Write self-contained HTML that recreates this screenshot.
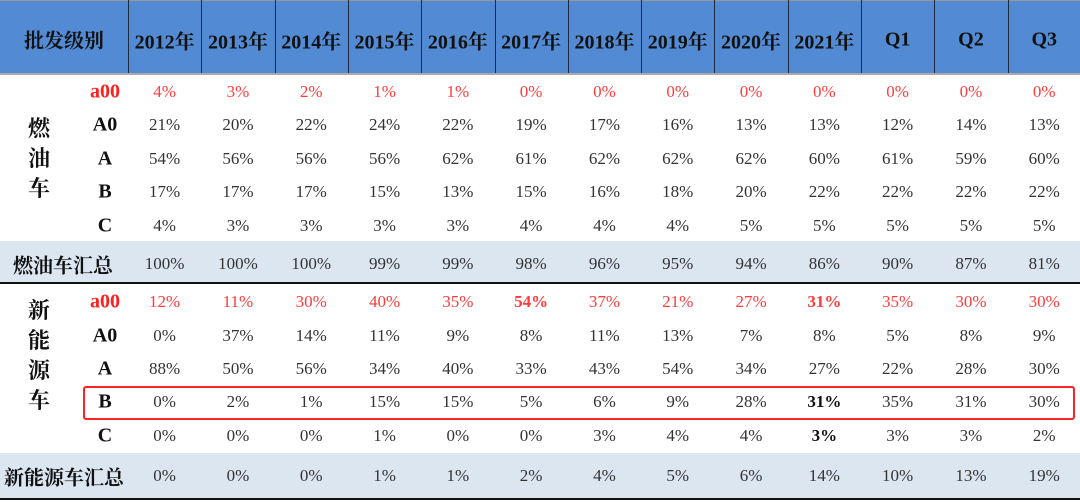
<!DOCTYPE html>
<html><head><meta charset="utf-8"><style>
body{margin:0;width:1080px;height:502px;background:#fff;position:relative;overflow:hidden;font-family:"Liberation Serif","Noto Serif CJK SC",serif;}
.a{position:absolute;transform:translate(-50%,-50%);white-space:nowrap;font-size:17px;color:#333;}
.h{font-weight:bold;color:#111;font-size:20px;}
.r{color:#ff3b3b;}
.b{font-weight:bold;}
.g{font-weight:bold;color:#111;font-size:20px;}
</style></head><body>
<div style="position:absolute;left:0;top:0;width:1080px;height:73px;background:#528bd4;border-top:1px solid #999;"></div>
<div style="position:absolute;left:0;top:73px;width:1080px;height:2px;background:#aaa;"></div>
<div style="position:absolute;left:0;top:241px;width:1080px;height:41px;background:#dce6f1;"></div>
<div style="position:absolute;left:0;top:282px;width:1080px;height:2px;background:#111;"></div>
<div style="position:absolute;left:0;top:453px;width:1080px;height:45px;background:#dce6f1;"></div>
<div style="position:absolute;left:0;top:498px;width:1080px;height:2px;background:#111;"></div>
<div style="position:absolute;left:83px;top:386px;width:988px;height:30px;border:2px solid #f22;border-radius:3px;"></div>
<div id="c"></div>
<script>
const c=document.getElementById('c');let h='';
const xs=[];for(let i=0;i<13;i++)xs.push(128+73.3*(i+0.5));
for(let i=0;i<13;i++){const x=128+73.3*i;h+=`<div style="position:absolute;left:${x}px;top:0;width:1px;height:73px;background:#1a2a40"></div>`;}
const hd=['2012年','2013年','2014年','2015年','2016年','2017年','2018年','2019年','2020年','2021年','Q1','Q2','Q3'];
h+=`<div class="a h" style="left:64px;top:39px">批发级别</div>`;
hd.forEach((t,i)=>h+=`<div class="a h" style="left:${xs[i]}px;top:40px">${t}</div>`);
const rows=[
[92,'a00',['4%','3%','2%','1%','1%','0%','0%','0%','0%','0%','0%','0%','0%'],1],
[125,'A0',['21%','20%','22%','24%','22%','19%','17%','16%','13%','13%','12%','14%','13%']],
[159,'A',['54%','56%','56%','56%','62%','61%','62%','62%','62%','60%','61%','59%','60%']],
[192,'B',['17%','17%','17%','15%','13%','15%','16%','18%','20%','22%','22%','22%','22%']],
[226,'C',['4%','3%','3%','3%','3%','4%','4%','4%','5%','5%','5%','5%','5%']],
[264,'',['100%','100%','100%','99%','99%','98%','96%','95%','94%','86%','90%','87%','81%']],
[302,'a00',['12%','11%','30%','40%','35%','54%','37%','21%','27%','31%','35%','30%','30%'],1,[5,9]],
[336,'A0',['0%','37%','14%','11%','9%','8%','11%','13%','7%','8%','5%','8%','9%']],
[369,'A',['88%','50%','56%','34%','40%','33%','43%','54%','34%','27%','22%','28%','30%']],
[402,'B',['0%','2%','1%','15%','15%','5%','6%','9%','28%','31%','35%','31%','30%'],0,[9]],
[436,'C',['0%','0%','0%','1%','0%','0%','3%','4%','4%','3%','3%','3%','2%'],0,[9]],
[476,'',['0%','0%','0%','1%','1%','2%','4%','5%','6%','14%','10%','13%','19%']]];
rows.forEach(([y,l,v,red,bold])=>{
 if(l)h+=`<div class="a g ${red?'r':''}" style="left:105px;top:${y}px;${red?'color:#ff2020':''}">${l}</div>`;
 v.forEach((t,i)=>{const b=bold&&bold.includes(i);h+=`<div class="a ${red?'r':''} ${b?'b':''}" style="left:${xs[i]}px;top:${y}px;${b&&!red?'color:#111':''}">${t}</div>`;});
});
h+=`<div class="a g" style="left:40px;top:159px;font-size:22px;line-height:30px;white-space:normal;width:24px">燃油车</div>`;
h+=`<div class="a g" style="left:40px;top:356px;font-size:22px;line-height:30px;white-space:normal;width:24px">新能源车</div>`;
h+=`<div class="a g" style="left:63px;top:264px;font-size:20px">燃油车汇总</div>`;
h+=`<div class="a g" style="left:64px;top:476px;font-size:20px">新能源车汇总</div>`;
c.innerHTML=h;
</script>
</body></html>
